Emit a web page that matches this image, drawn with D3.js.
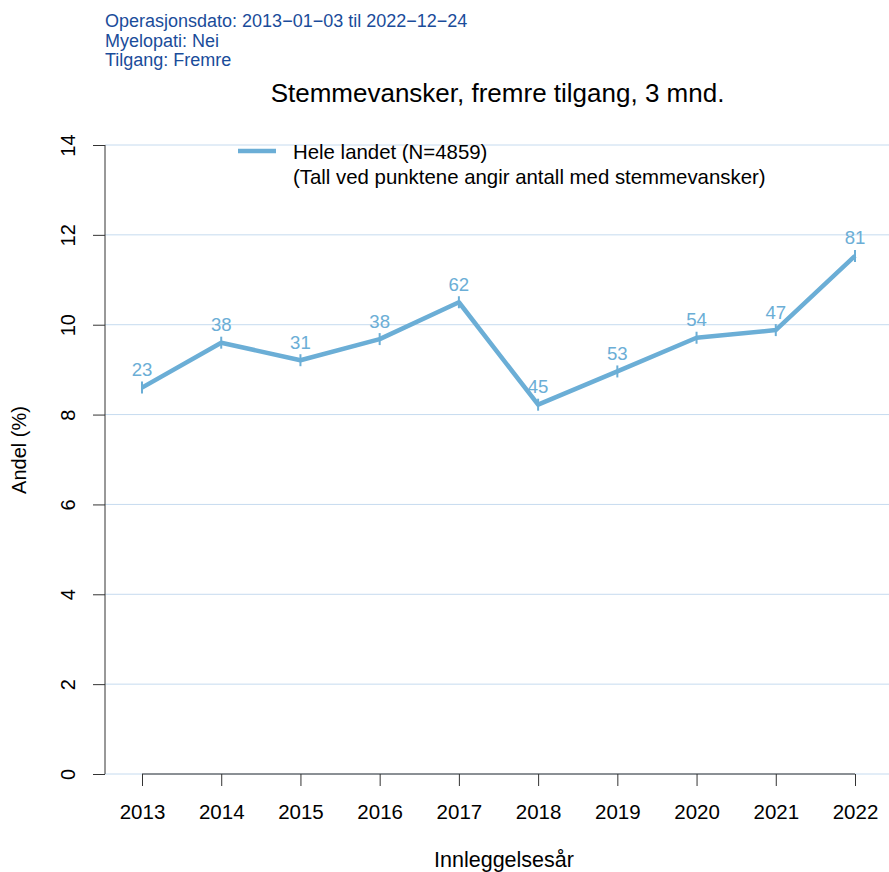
<!DOCTYPE html>
<html><head><meta charset="utf-8">
<script src="https://cdn.jsdelivr.net/npm/d3@7"></script>
<style>body{margin:0;background:#fff}svg{font-family:"Liberation Sans",Arial,sans-serif}</style>
</head><body>
<svg id="c" width="889" height="872"></svg>
<script>
const years = [2013,2014,2015,2016,2017,2018,2019,2020,2021,2022];
const shares = [8.6,9.6,9.21,9.68,10.5,8.22,8.96,9.71,9.88,11.53];
const counts = [23,38,31,38,62,45,53,54,47,81];
const yTicks = [0,2,4,6,8,10,12,14];
const infoLines = ["Operasjonsdato: 2013\u221201\u221203 til 2022\u221212\u221224","Myelopati: Nei","Tilgang: Fremre"];
const title = "Stemmevansker, fremre tilgang, 3 mnd.";
const legendLines = ["Hele landet (N=4859)","(Tall ved punktene angir antall med stemmevansker)"];

const svg = d3.select("#c");
const col = "#6baed6";
const x = d3.scaleLinear().domain([2013,2022]).range([142,855]);
const y = d3.scaleLinear().domain([0,14]).range([774,145]);

// gridlines
svg.append("g").selectAll("line").data(yTicks).join("line")
  .attr("x1",105).attr("x2",889).attr("y1",d=>y(d)).attr("y2",d=>y(d))
  .attr("stroke","#c6dbef").attr("stroke-width",1);

// y axis
const ya = svg.append("g").attr("transform","translate(105,0)")
  .call(d3.axisLeft(y).tickValues(yTicks).tickSize(12).tickPadding(0).tickFormat(d3.format("d")));
ya.select(".domain").attr("d",`M0,${y(0)}V${y(14)}`).attr("stroke","#333");
ya.selectAll(".tick line").attr("stroke","#333");
ya.selectAll(".tick text").attr("font-size",20).attr("fill","#000")
  .attr("transform","translate(-37,0) rotate(-90)").attr("text-anchor","middle").attr("dy","0.35em").attr("x",0);

// x axis
const xa = svg.append("g").attr("transform",`translate(0,${y(0)})`)
  .call(d3.axisBottom(x).tickValues(years).tickSize(12).tickFormat(d3.format("d")));
xa.select(".domain").attr("d",`M${x(2013)},0H${x(2022)}`).attr("stroke","#333");
xa.selectAll(".tick line").attr("stroke","#333");
xa.selectAll(".tick text").attr("font-size",20.5).attr("fill","#000").attr("y",45).attr("dy",0);

// line
const data = years.map((yr,i)=>({yr,v:shares[i],n:counts[i]}));
svg.append("path").datum(data)
  .attr("d",d3.line().x(d=>x(d.yr)).y(d=>y(d.v)))
  .attr("fill","none").attr("stroke",col).attr("stroke-width",4.5).attr("stroke-linejoin","round");
svg.append("g").selectAll("line").data(data).join("line")
  .attr("x1",d=>x(d.yr)).attr("x2",d=>x(d.yr)).attr("y1",d=>y(d.v)-6).attr("y2",d=>y(d.v)+6)
  .attr("stroke",col).attr("stroke-width",2);
svg.append("g").selectAll("text").data(data).join("text")
  .attr("x",d=>x(d.yr)).attr("y",d=>y(d.v)-11.5).attr("text-anchor","middle")
  .attr("font-size",18.6).attr("fill",col).text(d=>d.n);

// legend
svg.append("line").attr("x1",238).attr("x2",276).attr("y1",151).attr("y2",151)
  .attr("stroke",col).attr("stroke-width",4.5);
svg.append("g").selectAll("text").data(legendLines).join("text")
  .attr("x",293).attr("y",(d,i)=>159+i*25).attr("font-size",20.4).attr("fill","#000").text(d=>d);

// title
svg.append("text").attr("x",497.5).attr("y",101.5).attr("text-anchor","middle")
  .attr("font-size",26).attr("fill","#000").text(title);

// info
svg.append("g").selectAll("text").data(infoLines).join("text")
  .attr("x",105).attr("y",(d,i)=>27+i*19.7).attr("font-size",18).attr("fill","#1a4c9a").text(d=>d);

// axis titles
svg.append("text").attr("x",504).attr("y",867).attr("text-anchor","middle")
  .attr("font-size",21.5).attr("fill","#000").text("Innleggelsesår");
svg.append("text").attr("transform","translate(26,450) rotate(-90)").attr("text-anchor","middle")
  .attr("font-size",20).attr("fill","#000").text("Andel (%)");
</script>
</body></html>
